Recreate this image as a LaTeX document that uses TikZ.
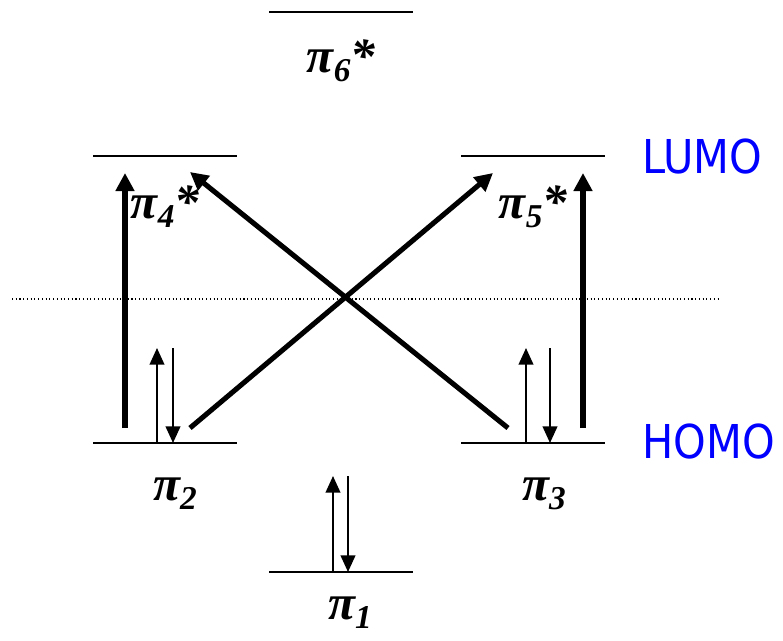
\documentclass[tikz,border=0pt]{standalone}
\usepackage{fontspec}
\setmainfont{Liberation Serif}
\newfontfamily\tagfont{DejaVu Sans}
\usetikzlibrary{arrows.meta,calc}

\newcommand{\orbsub}[1]{\raisebox{-0.2em}{\fontsize{25}{25}\selectfont #1}}

\begin{document}
\begin{tikzpicture}[
    x=0.75pt, y=-0.75pt,
    level/.style={line width=1.5pt},
    orb/.style={
        font=\fontsize{37}{37}\selectfont\bfseries\itshape,
        inner sep=0pt,
        anchor=base
    },
    tag/.style={
        font=\tagfont\fontsize{35}{35}\selectfont,
        text=blue,
        xscale=0.89,
        inner sep=0pt,
        anchor=west
    },
    spin/.style={line width=1.5pt, -{Triangle[length=12.5pt, width=11pt]}},
    jump/.style={line width=3.8pt, -{Triangle[length=13.5pt, width=13.5pt]}}
]
\useasboundingbox (0,0) rectangle (783,640);

% orbital levels
\foreach \name/\x/\y in {p1/341/572, p2/165/443, p3/533/443,
                         p4/165/156, p5/533/156, p6/341/12} {
    \coordinate (\name) at (\x,\y);
    \draw[level] (\x-72,\y) -- (\x+72,\y);
}

\draw[dotted, line width=0.8pt] (12,299) -- (718,299);

\node[orb] (l6) at (341,72)  {π\orbsub{6}*};
\node[orb] (l4) at (165,218) {π\orbsub{4}*};
\node[orb] (l5) at (533,218) {π\orbsub{5}*};
\node[orb] (l2) at (175,500) {π\orbsub{2}};
\node[orb] (l3) at (544,500) {π\orbsub{3}};
\node[orb] (l1) at (350,619) {π\orbsub{1}};

\node[tag] (lumo) at (642,157) {LUMO};
\node[tag] (homo) at (642,442) {HOMO};

% electron pairs
\draw[spin] ($(p1)+(-8,0)$) -- +(0,-96);
\draw[spin] ($(p1)+(7,-96)$) -- +(0,96);
\draw[spin] ($(p2)+(-8,0)$) -- +(0,-95);
\draw[spin] ($(p2)+(8,-95)$) -- +(0,95);
\draw[spin] ($(p3)+(-7,0)$) -- +(0,-95);
\draw[spin] ($(p3)+(17,-95)$) -- +(0,95);

% transitions
\draw[jump] ($(p2)+(-40,-15)$) -- ($(p4)+(-40,17)$);
\draw[jump] ($(p3)+(50,-15)$) -- ($(p5)+(50,17)$);
\draw[jump] ($(p2)+(25,-15)$) -- ($(p5)+(-40,17)$);
\draw[jump] ($(p3)+(-25,-15)$) -- ($(p4)+(25,16)$);

\end{tikzpicture}
\end{document}
